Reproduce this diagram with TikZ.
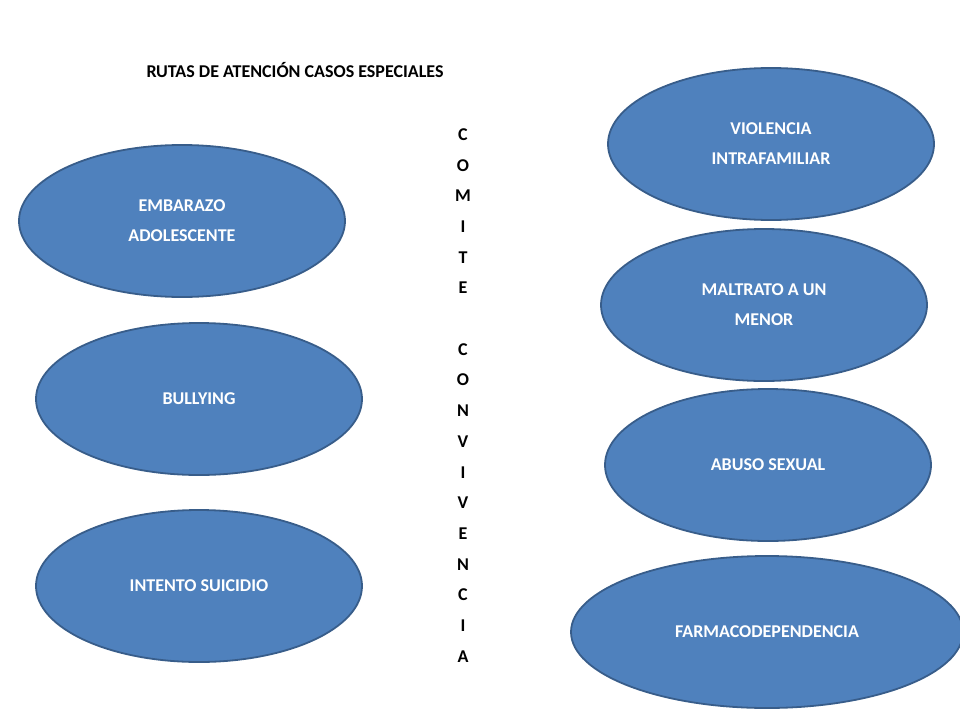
\documentclass[tikz,border=0pt]{standalone}
\usepackage{fontspec}
\setmainfont{Carlito}
\begin{document}
\begin{tikzpicture}[x=1pt,y=-1pt,
  ov/.style={text=white,font=\fontsize{18}{30}\selectfont\bfseries,align=center}]
\definecolor{bluefill}{HTML}{4F81BD}
\definecolor{blueborder}{HTML}{385D8A}
\useasboundingbox (0,0) rectangle (960,720);
\node[font=\fontsize{18}{22}\selectfont\bfseries] (title) at (295,70) {RUTAS DE ATENCIÓN CASOS ESPECIALES};
\node[font=\fontsize{18}{30.7}\selectfont\bfseries,align=center,anchor=north] (v) at (463,125) {C\\O\\M\\I\\T\\E\\[30.7pt]C\\O\\N\\V\\I\\V\\E\\N\\C\\I\\A};
\newcommand{\ov}[5]{\draw[draw=blueborder,line width=1.8pt,fill=bluefill] (#1,#2) ellipse [x radius=#3,y radius=76];
  \node[ov] (#4) at (#1,#2) {#5};}
\ov{182}{221}{163}{emb}{EMBARAZO\\ADOLESCENTE}
\ov{199}{399}{163}{bul}{BULLYING}
\ov{199}{586}{163}{int}{INTENTO SUICIDIO}
\ov{771}{144}{163}{vio}{VIOLENCIA\\INTRAFAMILIAR}
\ov{764}{305}{163}{mal}{MALTRATO A UN\\MENOR}
\ov{768}{465}{163}{abu}{ABUSO SEXUAL}
\ov{767}{632}{196}{far}{FARMACODEPENDENCIA}
\end{tikzpicture}
\end{document}
